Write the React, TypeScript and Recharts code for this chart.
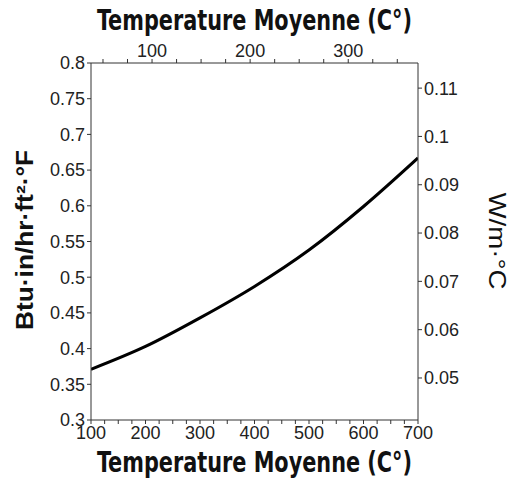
import { LineChart, Line, XAxis, YAxis } from "recharts";

const tempF = [100, 200, 300, 400, 500, 600, 700];
const conductivity = [0.371, 0.403, 0.443, 0.487, 0.538, 0.599, 0.667];

const fTicks = [100, 125, 150, 175, 200, 225, 250, 275, 300, 325, 350, 375, 400, 425, 450, 475, 500, 525, 550, 575, 600, 625, 650, 675, 700];
const fLabels = [100, 200, 300, 400, 500, 600, 700];
const cTicks = [50, 75, 100, 125, 150, 175, 200, 225, 250, 275, 300, 325, 350];
const cLabels = [100, 200, 300];
const btuTicks = [0.3, 0.35, 0.4, 0.45, 0.5, 0.55, 0.6, 0.65, 0.7, 0.75, 0.8];
const wTicks = [0.05, 0.06, 0.07, 0.08, 0.09, 0.1, 0.11];

// same curve, with the °C value for the top axis
const data = tempF.map((f, i) => ({ f, c: (f - 32) / 1.8, k: conductivity[i] }));

const AXIS = "#333";
const tickFont = { fontSize: 18, fill: "#222", fontFamily: "Liberation Sans, Arial, sans-serif" };
const titleFont = "Liberation Sans Narrow, DejaVu Sans Condensed, Open Sans, sans-serif";

function XTitle({ viewBox, top }: any) {
  const cx = viewBox.x + viewBox.width / 2;
  const y = top ? viewBox.y + 30 : viewBox.y + 52;
  return (
    <text
      x={cx}
      y={y}
      textAnchor="middle"
      fontFamily={titleFont}
      fontWeight="bold"
      fontSize={28}
      fill="#111"
      textLength={315}
      lengthAdjust="spacingAndGlyphs"
    >
      Temperature Moyenne (C°)
    </text>
  );
}

function LeftTitle() {
  return (
    <text
      x={0}
      y={0}
      transform="translate(33, 240) rotate(-90)"
      textAnchor="middle"
      fontFamily="Liberation Sans, Arial, sans-serif"
      fontWeight="bold"
      fontSize={23}
      fill="#111"
      textLength={180}
      lengthAdjust="spacingAndGlyphs"
    >
      Btu·in/hr·ft²·°F
    </text>
  );
}

function RightTitle() {
  return (
    <text
      x={0}
      y={0}
      transform="translate(489, 241) rotate(90)"
      textAnchor="middle"
      fontFamily="Liberation Sans, Arial, sans-serif"
      fontSize={24}
      fill="#111"
      textLength={97}
      lengthAdjust="spacingAndGlyphs"
    >
      W/m·°C
    </text>
  );
}

export default function App() {
  return (
    <div style={{ position: "absolute", left: 0, top: 0, width: 510, height: 482, background: "#fff" }}>
      <LineChart width={510} height={482} data={data} margin={{ top: 0, right: 0, bottom: 0, left: 0 }}>
        <XAxis
          xAxisId="f"
          dataKey="f"
          type="number"
          domain={[100, 700]}
          ticks={fTicks}
          tickFormatter={(v: number) => (fLabels.includes(v) ? String(v) : "")}
          interval={0}
          height={62}
          tickSize={4}
          tick={tickFont}
          stroke={AXIS}
          allowDataOverflow
          label={{ content: (p: any) => <XTitle {...p} /> }}
        />
        <XAxis
          xAxisId="c"
          dataKey="c"
          orientation="top"
          type="number"
          domain={[(100 - 32) / 1.8, (700 - 32) / 1.8]}
          ticks={cTicks}
          tickFormatter={(v: number) => (cLabels.includes(v) ? String(v) : "")}
          interval={0}
          height={63}
          tickSize={4}
          tick={tickFont}
          stroke={AXIS}
          allowDataOverflow
          label={{ content: (p: any) => <XTitle {...p} top /> }}
        />
        <YAxis
          yAxisId="btu"
          type="number"
          domain={[0.3, 0.8]}
          ticks={btuTicks}
          interval={0}
          width={91}
          tickSize={4}
          tick={tickFont}
          stroke={AXIS}
          label={{ content: () => <LeftTitle /> }}
        />
        <YAxis
          yAxisId="w"
          orientation="right"
          type="number"
          domain={[0.0413, 0.1152]}
          ticks={wTicks}
          interval={0}
          width={92}
          tickSize={4}
          tick={tickFont}
          stroke={AXIS}
          allowDataOverflow
          label={{ content: () => <RightTitle /> }}
        />
        <Line
          xAxisId="c"
          yAxisId="btu"
          type="monotone"
          dataKey="k"
          stroke="none"
          dot={false}
          activeDot={false}
          isAnimationActive={false}
        />
        <Line
          xAxisId="f"
          yAxisId="btu"
          type="monotone"
          dataKey="k"
          stroke="#000"
          strokeWidth={3}
          dot={false}
          isAnimationActive={false}
        />
      </LineChart>
    </div>
  );
}
